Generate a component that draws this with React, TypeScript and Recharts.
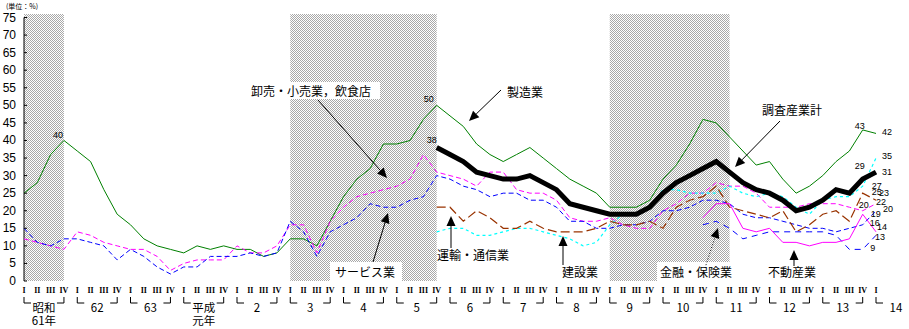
import React from "react";
import {
  LineChart,
  Line,
  XAxis,
  YAxis,
  ReferenceArea,
  ReferenceLine,
  ReferenceDot,
} from "recharts";

// quarters 昭和61年 I (index 0) .. 平成14年 I (index 64)
const quarterNames = ["I", "II", "III", "IV"];
const yearNames = [
  "昭和\n61年", "62", "63", "平成\n元年", "2", "3", "4", "5", "6",
  "7", "8", "9", "10", "11", "12", "13", "14",
];
const quarterIdx = Array.from({ length: 65 }, (_, i) => i);
const yTicks = [0, 5, 10, 15, 20, 25, 30, 35, 40, 45, 50, 55, 60, 65, 70, 75];
const recessions = [
  [0, 3],
  [20, 31],
  [44, 53],
];

// 製造業
const manufacturing = [
  25, 28, 36, 40, 37, 34, 26, 19, 16, 12,
  10, 9, 8, 10, 9, 10, 9, 9, 7, 8,
  12, 12, 10, 17, 24, 29, 32, 39, 39, 40,
  46, 50, 47, 44, 39, 36, 34, 36, 38, 35,
  32, 29, 27, 25, 21, 21, 21, 23, 29, 33,
  39, 46, 45, 41, 37, 33, 34, 29, 25, 27,
  30, 34, 37, 43, 42,
];
// 卸売・小売業，飲食店
const wholesale = [
  12, 11, 10, 9, 14, 13, 11, 10, 9, 9,
  7, 3, 5, 6, 6, 6, 10, 8, 8, 10,
  16, 16, 8, 17, 21, 24, 25, 26, 27, 29,
  36, 31, 30, 29, 27, 31, 31, 26, 25, 25,
  23, 18, 17, 17, 18, 16, 15, 15, 20, 22,
  25, 25, 28, 27, 27, 25, 21, 21, 21, 22,
  22, 22, 21, 20, 22,
];
// サービス業
const services = [
  15, 11, 10, 12, 12, 11, 10, 6, 9, 7,
  4, 2, 4, 4, 7, 7, 7, 8, 7, 8,
  17, 14, 7, 14, 16, 18, 22, 21, 21, 23,
  24, 30, 29, 27, 26, 24, 25, 25, 23, 23,
  21, 17, 17, 15, 15, 16, 16, 17, 20, 20,
  21, 23, 23, 22, 19, 18, 18, 17, 16, 15,
  15, 14, 15, 16, 20,
];
// 調査産業計 (from index 31)
const allIndustries = [
  38, 36, 34, 31, 30, 29, 29, 30, 28, 26,
  22, 21, 20, 19, 19, 19, 21, 25, 28, 30,
  32, 34, 31, 28, 26, 25, 23, 20, 21, 23,
  26, 25, 29, 31,
];
// 建設業 (from index 31)
const construction = [
  14, 15, 15, 13, 13, 14, 15, 15, 14, 13,
  12, 10, 11, 16, 19, 19, 21, 26, 26, 25,
  25, 25, 27, 25, 24, 25, 24, 21, 19, 23,
  24, 24, 27, 35,
];
// 運輸・通信業 (from index 31)
const transport = [
  21, 21, 17, 20, 18, 15, 15, 17, 15, 14,
  14, 14, 15, 17, 16, 16, 17, 15, 21, 23,
  24, 27, 21, 20, 19, 18, 20, 14, 16, 19,
  20, 17, 25, 23,
];
// 金融・保険業 (from index 51)
const finance = [16, 17, 15, 12, 13, 14, 14, 14, 14, 14, 13, 9, 9, 13];
// 不動産業 (from index 51)
const realEstate = [18, 22, 22, 15, 14, 15, 11, 11, 10, 11, 11, 12, 19, 14];

const seriesData: Record<string, { values: number[]; start: number }> = {
  mfg: { values: manufacturing, start: 0 },
  whole: { values: wholesale, start: 0 },
  serv: { values: services, start: 0 },
  cons: { values: construction, start: 31 },
  trans: { values: transport, start: 31 },
  fin: { values: finance, start: 51 },
  real: { values: realEstate, start: 51 },
  all: { values: allIndustries, start: 31 },
};

const rows = quarterIdx.map((i) => {
  const row: Record<string, number | null> = { i };
  Object.keys(seriesData).forEach((k) => {
    const s = seriesData[k];
    row[k] = i >= s.start ? s.values[i - s.start] : null;
  });
  return row;
});

const lineStyles = [
  { key: "mfg", stroke: "#008000", width: 1, dash: undefined },
  { key: "whole", stroke: "#ff00ff", width: 1, dash: "5 3" },
  { key: "serv", stroke: "#0000ff", width: 1, dash: "5 3" },
  { key: "cons", stroke: "#00ffff", width: 1.2, dash: "3 3" },
  { key: "trans", stroke: "#993300", width: 1.2, dash: "9 4" },
  { key: "fin", stroke: "#0000ff", width: 1, dash: "6 5" },
  { key: "real", stroke: "#ff00ff", width: 1, dash: undefined },
  { key: "all", stroke: "#000000", width: 5, dash: undefined },
];

// value tags next to points
const tags = [
  { s: "mfg", i: 3, dx: -6, dy: -5 },
  { s: "mfg", i: 31, dx: -8, dy: -6 },
  { s: "all", i: 31, dx: -5, dy: -8 },
  { s: "mfg", i: 63, dx: -3, dy: -4 },
  { s: "mfg", i: 64, dx: 11, dy: -1 },
  { s: "all", i: 63, dx: -3, dy: -13 },
  { s: "all", i: 64, dx: 11, dy: 0 },
  { s: "cons", i: 63, dx: 14, dy: 0 },
  { s: "cons", i: 64, dx: 11, dy: -2 },
  { s: "trans", i: 63, dx: 14, dy: -1 },
  { s: "trans", i: 64, dx: 8, dy: -7 },
  { s: "whole", i: 63, dx: 1, dy: -6 },
  { s: "whole", i: 64, dx: 5, dy: -2 },
  { s: "serv", i: 63, dx: 12, dy: -2 },
  { s: "serv", i: 64, dx: 12, dy: -2 },
  { s: "real", i: 63, dx: 13, dy: 0 },
  { s: "real", i: 64, dx: 6, dy: -5 },
  { s: "fin", i: 63, dx: 10, dy: -1 },
  { s: "fin", i: 64, dx: 4, dy: 2 },
];

const W = 909;
const H = 329;
const PLOT_LEFT = 24;
const PLOT_RIGHT = 876;
const STEP = (PLOT_RIGHT - PLOT_LEFT) / 64;
const JP = "'Noto Sans CJK JP', sans-serif";
const NUM = "'Liberation Sans', Arial, sans-serif";

const Hatch = (p: any) => (
  <g>
    <defs>
      <pattern id="chk" width="2" height="2" patternUnits="userSpaceOnUse">
        <rect width="2" height="2" fill="#ffffff" />
        <rect width="1" height="1" fill="#a8a8a8" />
        <rect x="1" y="1" width="1" height="1" fill="#a8a8a8" />
      </pattern>
    </defs>
    <rect x={p.x} y={p.y} width={p.width} height={p.height} fill="url(#chk)" />
  </g>
);

const YTick = (props: any) => {
  const { x, y, payload } = props;
  return (
    <g>
      <text x={x} y={y} textAnchor="end" dominantBaseline="central" fontSize={12} fontFamily={NUM} fill="#000">
        {payload.value}
      </text>
      <line x1={x + 8} x2={x + 11} y1={y} y2={y} stroke="#000" />
    </g>
  );
};

const XTick = (props: any) => {
  const { x, y, payload } = props;
  const i = payload.value as number;
  const q = i % 4;
  const lines = q === 0 ? yearNames[i / 4].split("\n") : [];
  return (
    <g>
      <text x={x} y={y + 4} textAnchor="middle" fontSize={8} fontWeight="bold" fontFamily="'Liberation Serif', serif" fill="#000">
        {quarterNames[q]}
      </text>
      {q === 0 && (
        <path d={`M${x},${y + 8}V${y + 14}H${x + 7}`} stroke="#000" fill="none" />
      )}
      {q === 3 && (
        <path d={`M${x - 7},${y + 14}H${x}V${y + 8}`} stroke="#000" fill="none" />
      )}
      {lines.map((t, k) => (
        <text key={k} x={x + 1.5 * STEP} y={y + 23 + k * 13} textAnchor="middle" fontSize={11.5} fontFamily={JP} fill="#000">
          {t}
        </text>
      ))}
    </g>
  );
};

const Arrow = ({ from, to, dotted }: { from: number[]; to: number[]; dotted?: boolean }) => {
  const dx = to[0] - from[0];
  const dy = to[1] - from[1];
  const L = Math.hypot(dx, dy);
  const ux = dx / L;
  const uy = dy / L;
  const bx = to[0] - ux * 10;
  const by = to[1] - uy * 10;
  const px = -uy * 4.5;
  const py = ux * 4.5;
  return (
    <g>
      <line x1={from[0]} y1={from[1]} x2={bx} y2={by} stroke="#000" strokeDasharray={dotted ? "1 2" : undefined} />
      <polygon points={`${to[0]},${to[1]} ${bx + px},${by + py} ${bx - px},${by - py}`} fill="#000" />
    </g>
  );
};

const notes = [
  { text: "卸売・小売業，飲食店", x: 251, y: 90, box: [248, 82, 132, 17], from: [318, 100], to: [387, 178] },
  { text: "製造業", x: 507, y: 91, from: [501, 90], to: [469, 121] },
  { text: "調査産業計", x: 762, y: 109, from: [780, 121], to: [735, 167] },
  { text: "サービス業", x: 335, y: 271, box: [330, 262, 72, 19], from: [373, 262], to: [388, 213] },
  { text: "運輸・通信業", x: 437, y: 254, from: [451, 248], to: [451, 216] },
  { text: "建設業", x: 562, y: 271, from: [563, 265], to: [563, 236] },
  { text: "金融・保険業", x: 660, y: 271, box: [657, 262, 75, 19], from: [705, 268], to: [718, 228], dotted: true },
  { text: "不動産業", x: 768, y: 271, from: [794, 266], to: [794, 250] },
];

export default function App() {
  return (
    <div style={{ position: "absolute", left: 0, top: 0, width: W, height: H, background: "#fff" }}>
      <LineChart
        width={W}
        height={H}
        data={rows}
        margin={{ top: 14, right: W - PLOT_RIGHT, bottom: 18, left: 0 }}
        style={{ fontFamily: NUM }}
      >
        {recessions.map(([a, b], k) => (
          <ReferenceArea key={k} x1={a} x2={b} y1={0} y2={76} shape={<Hatch />} ifOverflow="visible" />
        ))}
        <XAxis
          type="number"
          dataKey="i"
          domain={[0, 64]}
          ticks={quarterIdx}
          interval={0}
          axisLine={false}
          tickLine={false}
          height={30}
          tick={<XTick />}
        />
        <YAxis
          type="number"
          domain={[0, 76]}
          ticks={yTicks}
          interval={0}
          axisLine={false}
          tickLine={false}
          width={PLOT_LEFT}
          tick={<YTick />}
        />
        <ReferenceLine segment={[{ x: 0, y: 0 }, { x: 0, y: 75 }]} stroke="#000" strokeWidth={1} />
        {lineStyles.map((s) => (
          <Line
            key={s.key}
            type="linear"
            dataKey={s.key}
            stroke={s.stroke}
            strokeWidth={s.width}
            strokeDasharray={s.dash}
            dot={false}
            activeDot={false}
            isAnimationActive={false}
          />
        ))}
        {tags.map((t, k) => {
          const s = seriesData[t.s];
          const v = s.values[t.i - s.start];
          return (
            <ReferenceDot
              key={k}
              x={t.i}
              y={v}
              r={0}
              ifOverflow="visible"
              shape={(p: any) => (
                <text
                  x={p.cx + t.dx}
                  y={p.cy + t.dy}
                  textAnchor="middle"
                  dominantBaseline="central"
                  fontSize={9}
                  fontFamily={NUM}
                  fill="#000"
                >
                  {v}
                </text>
              )}
            />
          );
        })}
      </LineChart>
      <svg width={W} height={H} style={{ position: "absolute", left: 0, top: 0, pointerEvents: "none" }}>
        <text x={6} y={6} dominantBaseline="central" fontSize={7} fontFamily={JP} fill="#000">
          (単位：%)
        </text>
        {notes.map((n, k) => (
          <g key={k}>
            {n.box && <rect x={n.box[0]} y={n.box[1]} width={n.box[2]} height={n.box[3]} fill="#fff" />}
            <text x={n.x} y={n.y} dominantBaseline="central" fontSize={12} fontFamily={JP} fill="#000">
              {n.text}
            </text>
            <Arrow from={n.from} to={n.to} dotted={n.dotted} />
          </g>
        ))}
      </svg>
    </div>
  );
}
